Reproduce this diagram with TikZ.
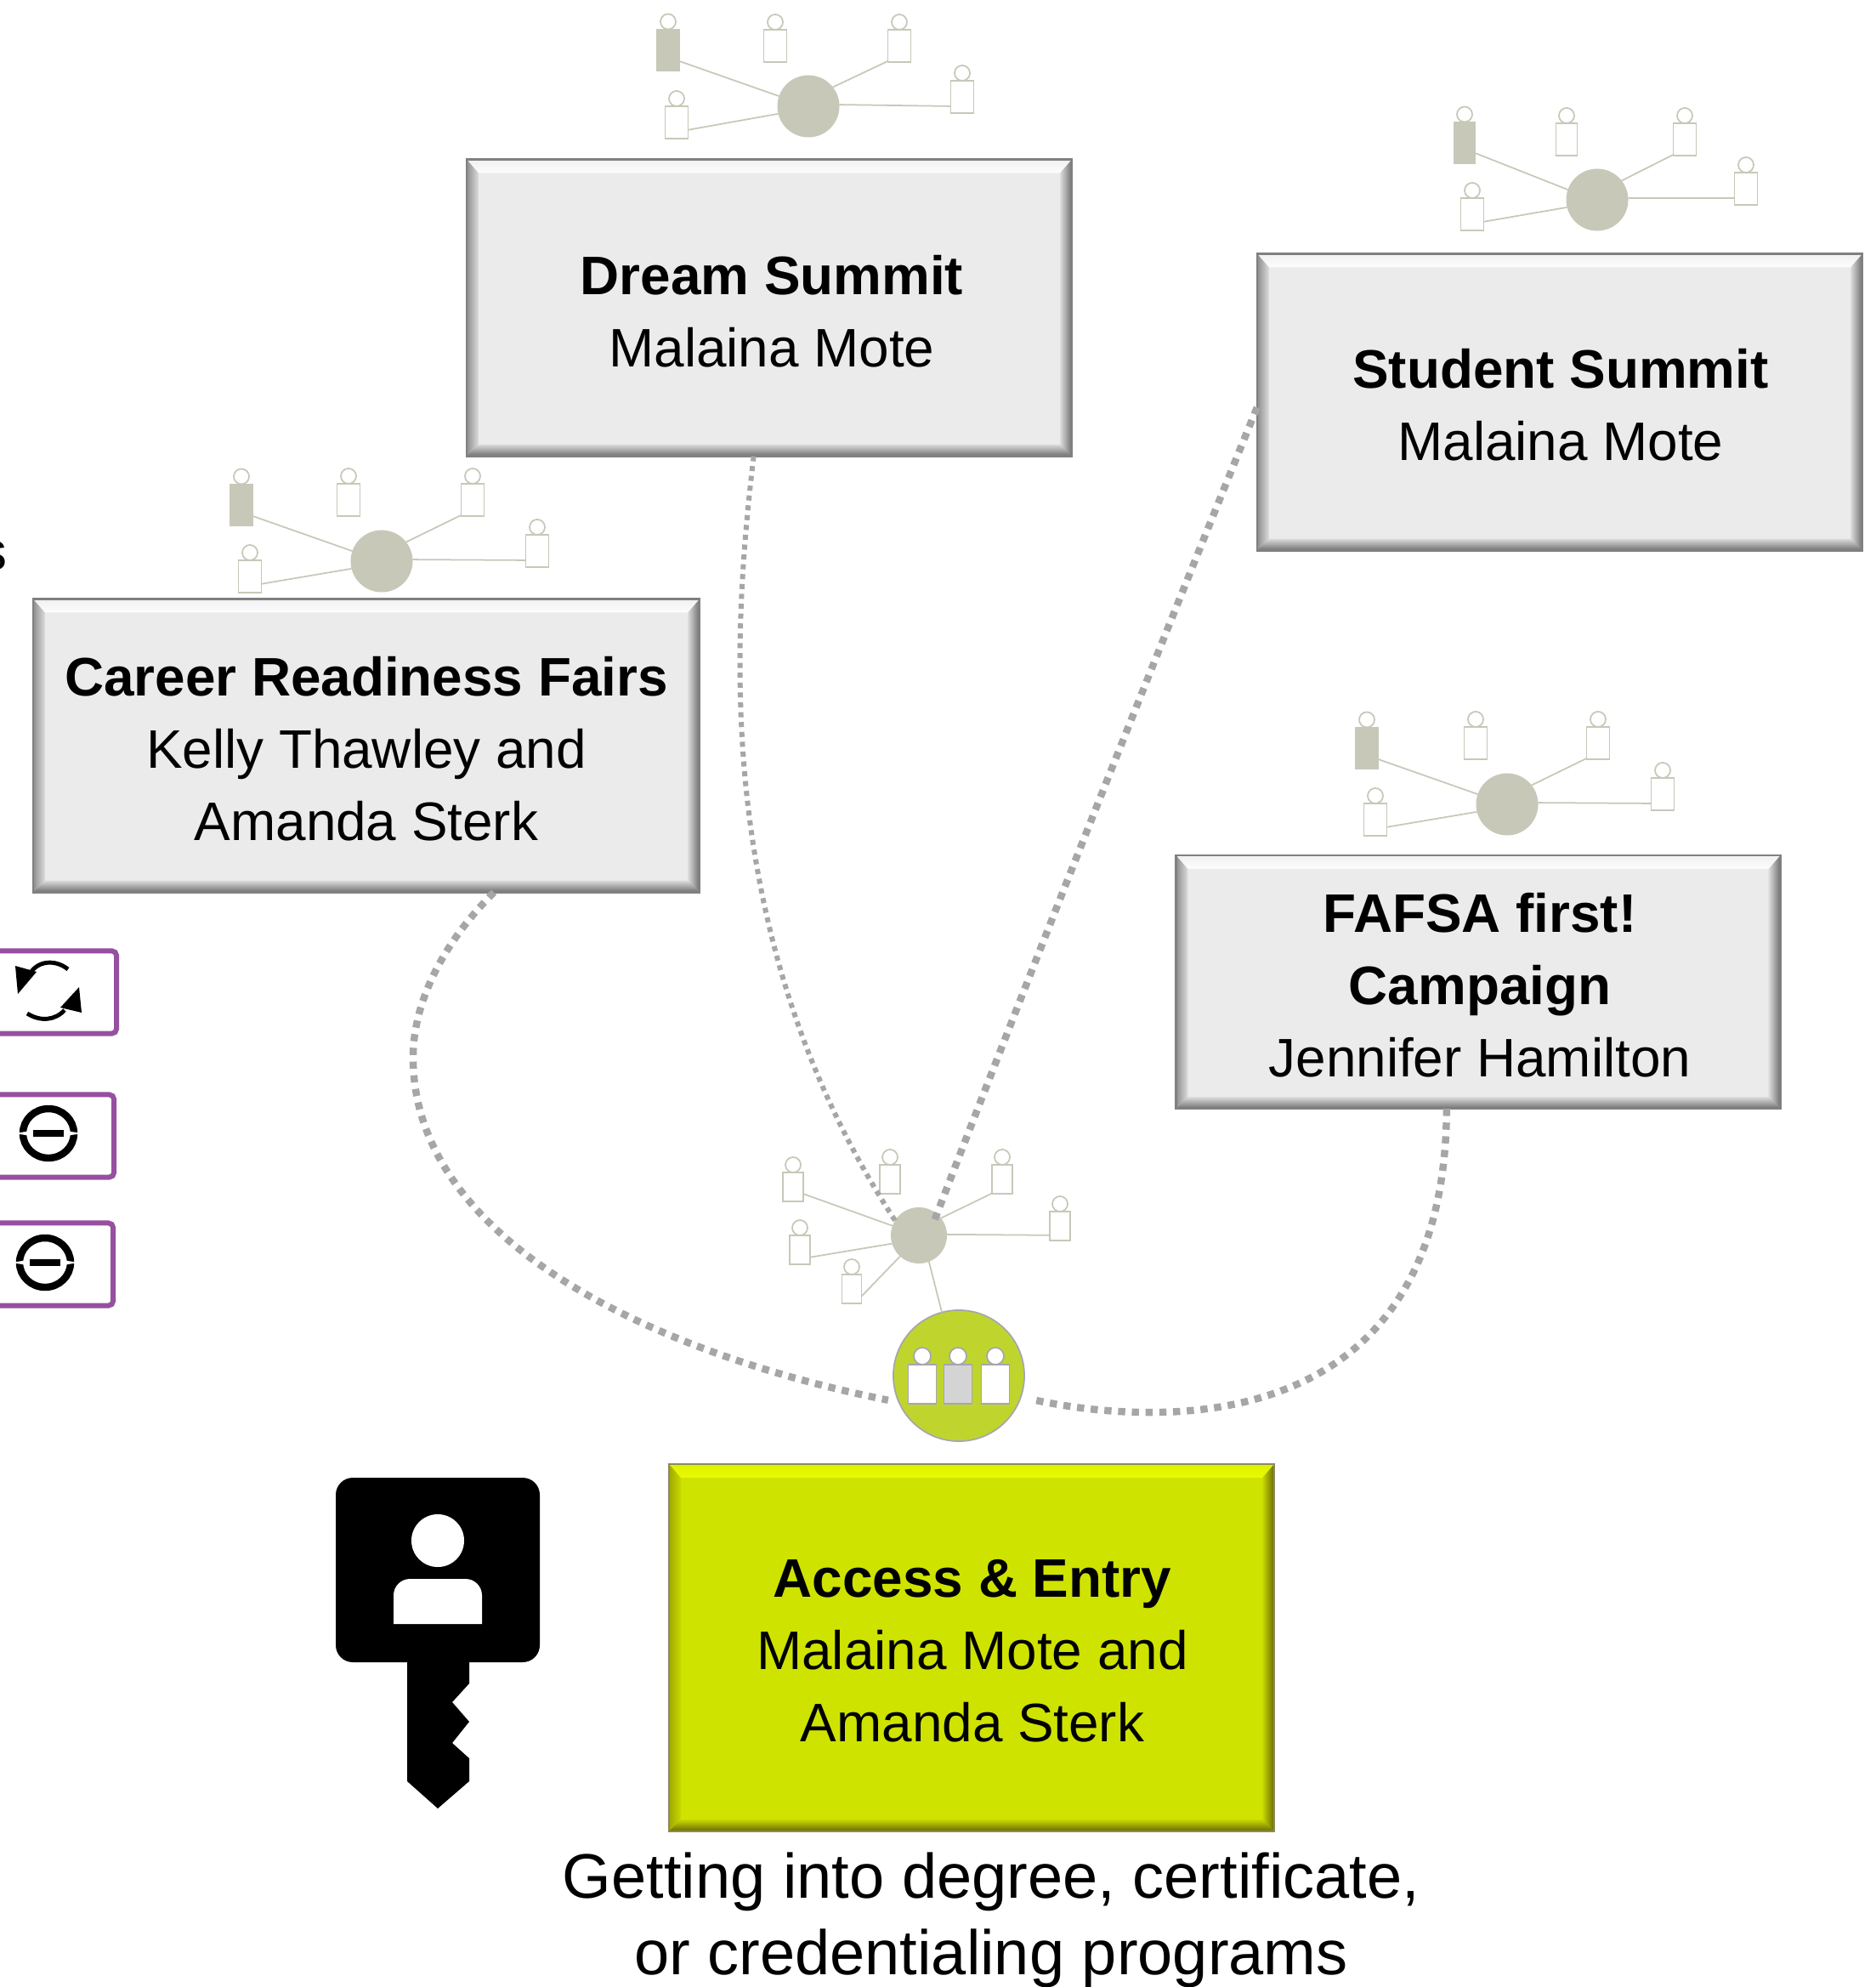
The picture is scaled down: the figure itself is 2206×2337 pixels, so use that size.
\documentclass[tikz,border=0pt]{standalone}
\usepackage{fontspec}
\setmainfont{Liberation Sans}
\usetikzlibrary{positioning}

\definecolor{hubgrey}{HTML}{C7C8B8}
\definecolor{dotgrey}{HTML}{A6A6A6}
\definecolor{ringgrey}{HTML}{A6A6AE}
\definecolor{ringlime}{HTML}{BFD52D}
\definecolor{actionpurple}{HTML}{96509F}
\definecolor{greybase}{HTML}{EBEBEB}
\definecolor{greyedge}{HTML}{808080}
\definecolor{greytop}{HTML}{F0F0F0}
\definecolor{greytopin}{HTML}{FDFDFD}
\definecolor{greyside}{HTML}{8C8C8C}
\definecolor{greysidein}{HTML}{DCDCDC}
\definecolor{greylow}{HTML}{6E6E6E}
\definecolor{limebase}{HTML}{CFE300}
\definecolor{limeedge}{HTML}{8A8A60}
\definecolor{limetop}{HTML}{DDF000}
\definecolor{limetopin}{HTML}{E8FB00}
\definecolor{limeside}{HTML}{9EA800}
\definecolor{limesidein}{HTML}{C8D800}
\definecolor{limelow}{HTML}{666800}

\tikzset{
  bevelbox/.style={rectangle,draw=#1edge,line width=0.7pt,fill=#1base,inner sep=0pt,outer sep=0pt,
    path picture={
      \coordinate (pnw) at (path picture bounding box.north west);
      \coordinate (pne) at (path picture bounding box.north east);
      \coordinate (psw) at (path picture bounding box.south west);
      \coordinate (pse) at (path picture bounding box.south east);
      \shade[top color=#1top,bottom color=#1topin] (pnw) -- (pne) -- ([shift={(-14,16)}]pne) -- ([shift={(14,16)}]pnw) -- cycle;
      \shade[left color=#1side,right color=#1sidein] (pnw) -- ([shift={(14,16)}]pnw) -- ([shift={(14,-14)}]psw) -- (psw) -- cycle;
      \shade[left color=#1sidein,right color=#1low] (pne) -- ([shift={(-14,16)}]pne) -- ([shift={(-14,-14)}]pse) -- (pse) -- cycle;
      \shade[top color=#1sidein,bottom color=#1low] (psw) -- ([shift={(14,-14)}]psw) -- ([shift={(-14,-14)}]pse) -- (pse) -- cycle;
    }},
  boxtext/.style={align=center,inner sep=0pt,font=\fontsize{18.15}{24.2}\selectfont},
  hubnode/.style={circle,fill=hubgrey,inner sep=0pt,outer sep=0pt,minimum size=0.73cm},
  personbody/.style={rectangle,draw=hubgrey,line width=0.5pt,fill=white,inner sep=0pt,outer sep=0pt,
    minimum width=0.27cm,minimum height=0.38cm},
  personhead/.style={circle,draw=hubgrey,line width=0.5pt,fill=white,inner sep=0pt,outer sep=0pt,minimum size=0.18cm},
  leadbody/.style={fill=hubgrey,minimum height=0.49cm},
  smallbody/.style={minimum width=0.24cm,minimum height=0.34cm},
  hubline/.style={draw=hubgrey,line width=0.5pt},
  dotlink/.style={draw=dotgrey,line width=2.4pt,dash pattern=on 2.4pt off 2.2pt},
  thinlink/.style={draw=dotgrey,line width=1.7pt,dash pattern=on 1.7pt off 1.6pt},
  actionbox/.style={rectangle,rounded corners=1.5pt,draw=actionpurple,line width=1.7pt,fill=white,
    inner sep=0pt,minimum width=2.4cm,minimum height=0.97cm},
  ringbody/.style={rectangle,draw=ringgrey,line width=0.5pt,fill=white,inner sep=0pt,outer sep=0pt,
    minimum width=0.33cm,minimum height=0.46cm},
  ringhead/.style={circle,draw=ringgrey,line width=0.5pt,fill=white,inner sep=0pt,outer sep=0pt,minimum size=0.2cm},
}

\newcommand{\person}[4][]{
  \node[personbody,#1] (#2) at (#3,#4) {};
  \node[personhead,above=0pt of #2] (#2head) {};
}
\newcommand{\minusicon}[1]{
  \begin{scope}[shift={#1}]
    \draw[line width=2.4pt] (0,0) ellipse (30 and 29);
    \fill[white] (-40,0) -- (-20,-3) -- (-20,3) -- cycle;
    \fill[white] (40,0) -- (20,-3) -- (20,3) -- cycle;
    \fill (-18,-4) rectangle (18,4);
  \end{scope}
}

\begin{document}
\begin{tikzpicture}[x=0.01cm,y=-0.01cm]
\useasboundingbox (0,0) rectangle (2206,2337);

% boxes
\node[bevelbox=grey,minimum width=7.12cm,minimum height=3.49cm] (dream) at (905,362) {};
\node[bevelbox=grey,minimum width=7.12cm,minimum height=3.49cm] (student) at (1835,473) {};
\node[bevelbox=grey,minimum width=7.84cm,minimum height=3.45cm] (career) at (431,877) {};
\node[bevelbox=grey,minimum width=7.11cm,minimum height=2.98cm] (fafsa) at (1739,1155) {};
\node[bevelbox=lime,minimum width=7.12cm,minimum height=4.32cm] (access) at (1143,1938) {};
\node[boxtext] (dreamtext) at (908,366) {\textbf{Dream Summit}\\Malaina Mote};
\node[boxtext] (studenttext) at (1836,476) {\textbf{Student Summit}\\Malaina Mote};
\node[boxtext] (careertext) at (431,881) {\textbf{Career Readiness Fairs}\\Kelly Thawley and\\Amanda Sterk};
\node[boxtext] (fafsatext) at (1741,1159) {\textbf{FAFSA first!}\\\textbf{Campaign}\\Jennifer Hamilton};
\node[boxtext] (accesstext) at (1144,1942) {\textbf{Access \& Entry}\\Malaina Mote and\\Amanda Sterk};
\node[align=center,font=\fontsize{21.05}{25.6}\selectfont] (caption) at (1166,2258) {Getting into degree, certificate,\\or credentialing programs};
\node[anchor=east,inner sep=0pt,font=\fontsize{18.15}{24.2}\selectfont] (cutoff) at (9,654) {s};

% people around the boxes
\node[hubnode] (hubdream) at (951,125) {};
\person[leadbody]{dreama}{786}{59}
\person{dreamb}{912}{54}
\person{dreamc}{1058}{54}
\person{dreamd}{1132}{114}
\person{dreame}{796}{144}

\node[hubnode] (hubstudent) at (1879,235) {};
\person[leadbody,minimum width=0.25cm]{studenta}{1723}{168}
\person[minimum width=0.25cm]{studentb}{1843}{164}
\person{studentc}{1982}{164}
\person{studentd}{2054}{222}
\person{studente}{1732}{252}

\node[hubnode] (hubcareer) at (449,660) {};
\person[leadbody]{careera}{284}{594}
\person{careerb}{410}{588}
\person{careerc}{556}{588}
\person{careerd}{632}{648}
\person{careere}{294}{678}

\node[hubnode] (hubfafsa) at (1773,946) {};
\person[leadbody]{fafsaa}{1608}{880}
\person{fafsab}{1736}{874}
\person{fafsac}{1880}{874}
\person{fafsad}{1956}{934}
\person{fafsae}{1618}{964}

\foreach \h in {dream,student,career,fafsa}
  \foreach \p/\a/\b in {a/-44/161,c/233/38,d/-141/3,e/-33/194}
    \draw[hubline] (hub\h.\b) -- (\h\p.\a);

% people at the entry
\node[hubnode,minimum size=0.66cm] (hubaccess) at (1081,1453) {};
\person[smallbody]{accessa}{933}{1396}
\person[smallbody]{accessb}{1047}{1387}
\person[smallbody]{accessc}{1179}{1387}
\person[smallbody]{accessd}{1247}{1442}
\person[smallbody]{accesse}{941}{1470}
\person[smallbody,minimum width=0.23cm]{accessf}{1002}{1516}
\foreach \p/\a/\b in {a/-34/160,c/234/38,d/-138/2,e/-36/197,f/-37/228}
  \draw[hubline] (hubaccess.\b) -- (access\p.\a);

\node[circle,draw=ringgrey,line width=0.5pt,fill=ringlime,inner sep=0pt,outer sep=0pt,minimum size=1.54cm] (ring) at (1128,1618) {};
\draw[hubline] (hubaccess.-69) -- (ring.105);
\node[ringbody] (ringa) at (1085,1628) {};
\node[ringbody,fill=black!17] (ringb) at (1127,1628) {};
\node[ringbody] (ringc) at (1171,1628) {};
\node[ringhead,above=0pt of ringa] (ringahead) {};
\node[ringhead,above=0pt of ringb] (ringbhead) {};
\node[ringhead,above=0pt of ringc] (ringchead) {};

% dotted links
\draw[thinlink] (dream.-96) .. controls (860,760) and (840,1110) .. (hubaccess.148);
\draw[dotlink,shorten >=-3pt] (student.181) .. controls (1340,820) and (1190,1200) .. (hubaccess.50);
\draw[dotlink,shorten >=3.7pt] (career.-49) .. controls (525,1105) and (486,1175) .. (486,1244)
  .. controls (486,1460) and (770,1592) .. (ring.204);
\draw[dotlink,shorten >=3.7pt] (fafsa.-104) .. controls (1700,1690) and (1370,1680) .. (ring.-19);

% action buttons
\node[actionbox] (actionsync) at (17,1167) {};
\node[actionbox] (actionone) at (14,1336) {};
\node[actionbox] (actiontwo) at (13,1487) {};
\draw[line width=1.4pt] (80,1140) .. controls (65,1128) and (45,1130) .. (36,1144);
\fill (18,1136) -- (21,1169) -- (43,1143) -- cycle;
\draw[line width=1.4pt] (32,1192) .. controls (48,1202) and (65,1200) .. (76,1188);
\fill (93,1161) -- (96,1191) -- (71,1185) -- cycle;
\minusicon{(57,1333)}
\minusicon{(53,1485)}

% key
\fill[rounded corners=5.7pt] (395,1738) rectangle (635,1955);
\fill (479,1950) -- (552,1950) -- (552,1980) -- (532,2002) -- (552,2025) -- (532,2050) -- (552,2068) -- (552,2095) -- (515,2127) -- (479,2095) -- cycle;
\fill[white] (515,1812) circle (31);
\fill[white] (463,1910) [rounded corners=5.5pt] -- (463,1857) -- (567,1857) [sharp corners] -- (567,1910) -- cycle;
\end{tikzpicture}
\end{document}
